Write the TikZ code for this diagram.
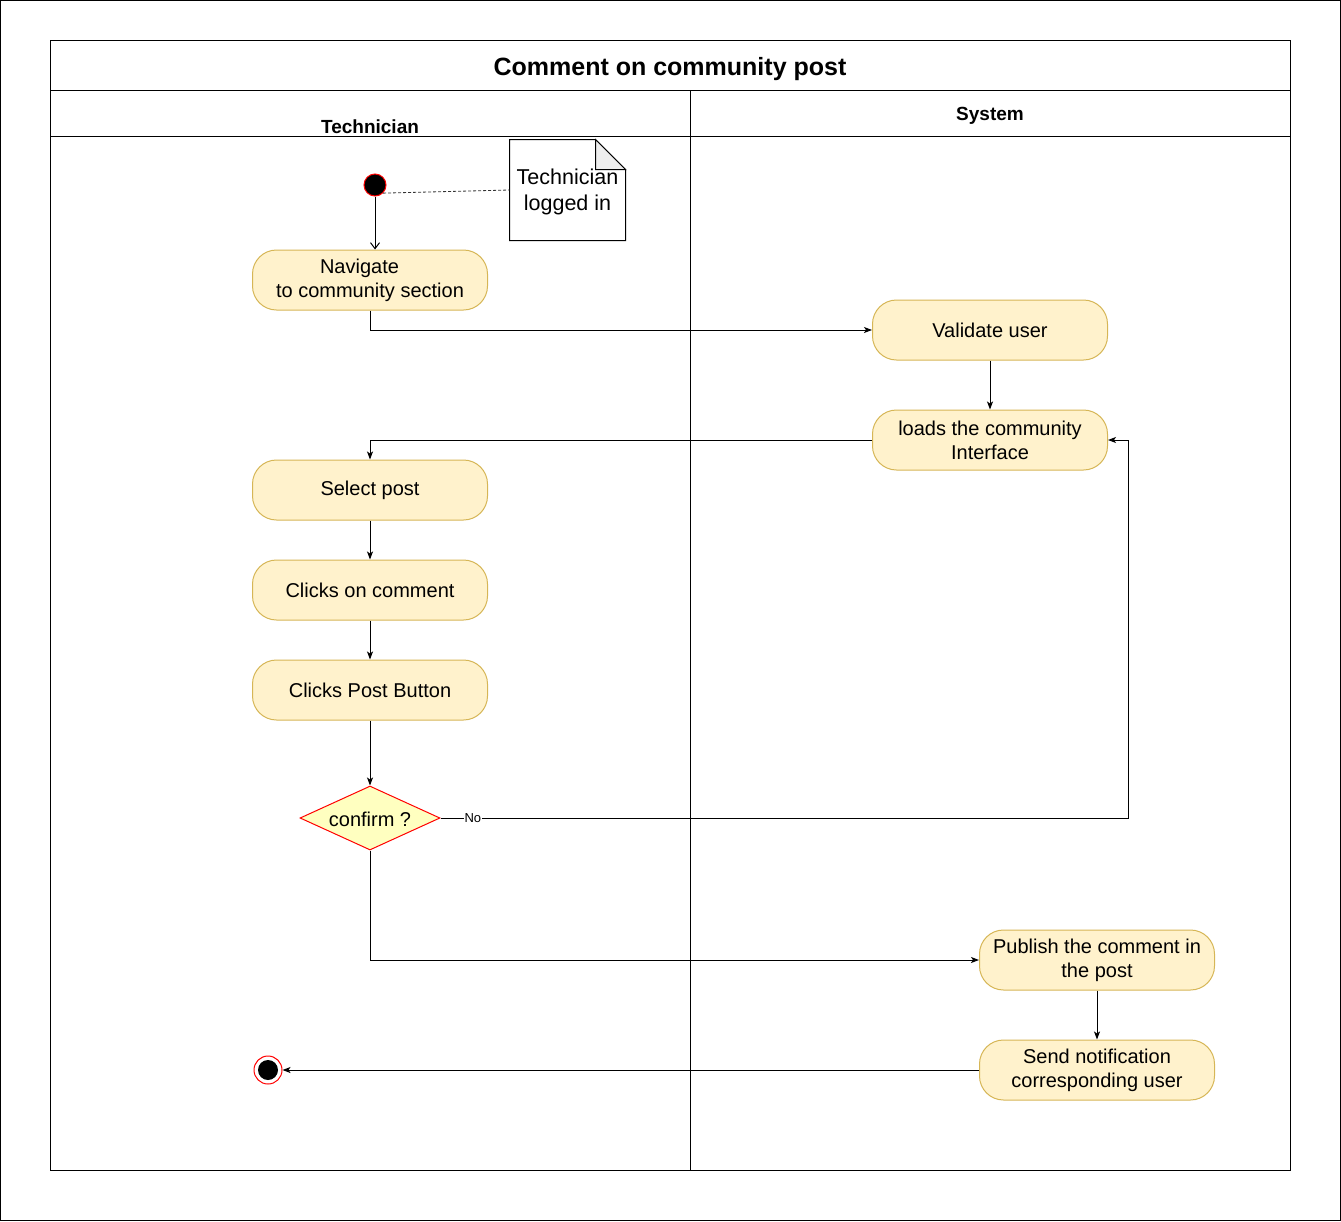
\documentclass[tikz,border=0pt]{standalone}
\usepackage{fontspec}
\setmainfont{Liberation Sans}
\usetikzlibrary{arrows.meta,shapes.geometric}
\definecolor{actfill}{HTML}{FFF2CC}
\definecolor{actstroke}{HTML}{D6B656}
\definecolor{decfill}{HTML}{FFFFC0}
\definecolor{foldgray}{HTML}{EEEEEE}
\begin{document}
\begin{tikzpicture}[x=1pt,y=-1pt,line width=1pt,
  act/.style={rectangle, rounded corners=24pt, draw=actstroke, fill=actfill, minimum width=235pt, minimum height=60pt, align=center, inner sep=2pt, font=\fontsize{20}{24}\selectfont},
  decis/.style={diamond, draw=red, fill=decfill, minimum width=140pt, minimum height=64pt, inner sep=0pt},
  dectext/.style={inner sep=0pt, font=\fontsize{20}{24}\selectfont},
  startnode/.style={circle, draw=red, fill=black, minimum size=22pt, inner sep=0pt},
  endnode/.style={circle, draw=red, fill=white, minimum size=28pt, inner sep=0pt},
  lanehead/.style={font=\bfseries\fontsize{19}{23}\selectfont, inner sep=0pt},
  arr/.style={draw=black, -{Stealth[length=8pt,width=6pt,inset=2pt]}},
  openarr/.style={draw=black, -{Straight Barb[length=6pt,width=9pt]}},
  lbl/.style={fill=white, inner sep=1pt, font=\fontsize{13}{15}\selectfont},
  notebox/.style={minimum width=115pt, minimum height=100pt, inner sep=0pt, align=center, font=\fontsize{21.5}{26}\selectfont}
]
\useasboundingbox (0,0) rectangle (1341,1221);
\draw (0.5,0.5) rectangle (1340.5,1220.5);
% pool
\draw (50,40) rectangle (1290,1170);
\draw (50,90) -- (1290,90);
\draw (50,136) -- (1290,136);
\draw (690,90) -- (690,1170);
\node[font=\bfseries\fontsize{25}{30}\selectfont, inner sep=0pt] (title) at (670,69.5) {Comment on community post};
\node[lanehead] (lt) at (370,127) {Technician};
\node[lanehead] (ls) at (990,116) {System};
% nodes
\node[startnode] (start) at (375,185) {};
\node[notebox] (note) at (567.5,190) {};
\draw[fill=white] (note.north west) -- ([xshift=-30pt]note.north east) -- ([yshift=-30pt]note.north east) -- (note.south east) -- (note.south west) -- cycle;
\draw[fill=foldgray] ([xshift=-30pt]note.north east) -- ([xshift=-30pt,yshift=-30pt]note.north east) -- ([yshift=-30pt]note.north east) -- cycle;
\node[notebox] (notetext) at (567.5,192) {Technician\\logged in};
\node[act] (nav) at (370,280) {Navigate\hspace*{21pt}\\to community section};
\node[act] (val) at (990,330) {Validate user};
\node[act] (loads) at (990,440) {loads the community\\Interface};
\node[act] (sel) at (370,490) {Select post};
\node[act] (clk) at (370,590) {Clicks on comment};
\node[act] (post) at (370,690) {Clicks Post Button};
\node[decis] (dec) at (370,818) {};
\node[dectext] (dectxt) at (370,819) {confirm ?};
\node[act] (pub) at (1097,960) {Publish the comment in\\the post};
\node[act] (send) at (1097,1070) {Send notification\\corresponding user};
\node[endnode] (end) at (268,1070) {};
\fill (end.center) circle (10pt);
\coordinate (c1) at (1128,818);
% edges
\draw[openarr] (start) -- (start |- nav.north);
\draw[dash pattern=on 3pt off 2pt, draw=black!80, line width=0.8pt] (start.south east) -- (note.west);
\draw[arr] (nav.south) |- (val.west);
\draw[arr] (val) -- (loads);
\draw[arr] (loads.west) -| (sel.north);
\draw[arr] (sel) -- (clk);
\draw[arr] (clk) -- (post);
\draw[arr] (post) -- (dec);
\draw[arr] (dec.east) -- node[lbl, pos=0.047]{No} (c1) |- (loads.east);
\draw[arr] (dec.south) |- (pub.west);
\draw[arr] (pub) -- (send);
\draw[arr] (send.west) -- (end);
\end{tikzpicture}
\end{document}
